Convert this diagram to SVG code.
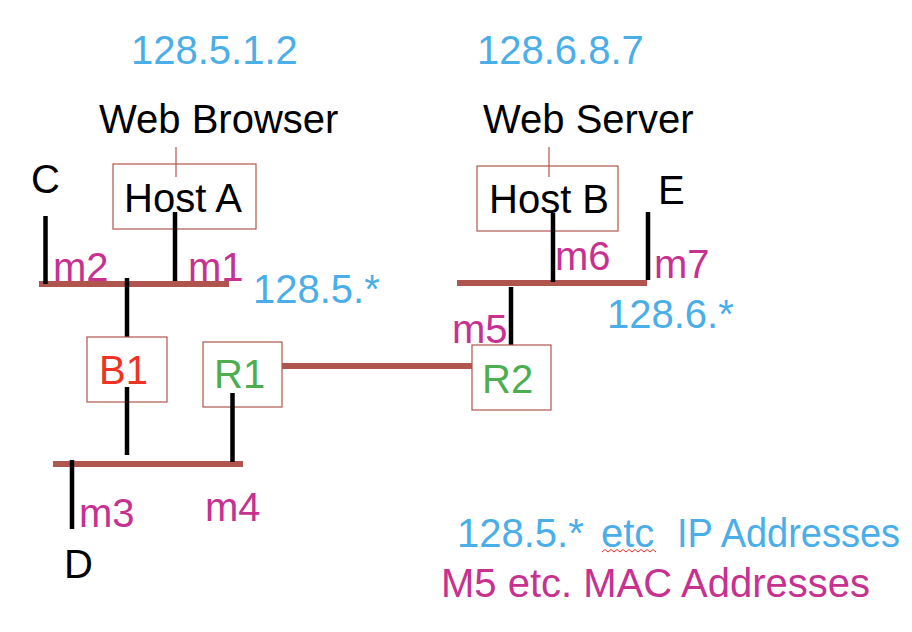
<svg xmlns="http://www.w3.org/2000/svg" width="912" height="632" viewBox="0 0 912 632">
<style>
text { font-family: "Liberation Sans", Arial, sans-serif; font-size: 40px; }
.blk { fill: #000000; }
.ip { fill: #4aaee8; }
.mac { fill: #c7318f; }
.box { fill: #ffffff; stroke: #b0554e; stroke-width: 1.2; }
.bus { stroke: #b0554e; stroke-width: 6; fill: none; }
.tap { stroke: #000000; stroke-width: 4.5; fill: none; }
.thin { stroke: #b0554e; stroke-width: 1.2; fill: none; }
</style>
<rect width="912" height="632" fill="#ffffff"/>

<g id="connectors">
  <line class="bus" x1="39" y1="284" x2="229" y2="284"/>
  <line class="bus" x1="457" y1="283" x2="647" y2="283"/>
  <line class="bus" x1="53" y1="464" x2="243" y2="464"/>
  <line class="bus" x1="282" y1="366" x2="472" y2="366"/>
  <line class="thin" x1="176" y1="147" x2="176" y2="177"/>
  <line class="thin" x1="549" y1="147" x2="549" y2="177"/>
</g>

<g id="hostA">
  <rect class="box" x="113" y="164" width="143" height="65"/>
  <line class="thin" x1="176" y1="164" x2="176" y2="177"/>
  <text class="blk" x="124" y="212">Host A</text>
  <line class="tap" x1="175" y1="212" x2="175" y2="281"/>
  <text class="ip" x="131" y="64">128.5.1.2</text>
  <text class="blk" x="99" y="133">Web Browser</text>
  <text class="mac" x="188" y="281">m1</text>
</g>

<g id="hostB">
  <rect class="box" x="477" y="166" width="141" height="65"/>
  <line class="thin" x1="549" y1="166" x2="549" y2="177"/>
  <text class="blk" x="489" y="213">Host B</text>
  <line class="tap" x1="553" y1="213" x2="553" y2="282"/>
  <text class="ip" x="477" y="64">128.6.8.7</text>
  <text class="blk" x="483" y="133">Web Server</text>
  <text class="mac" x="555" y="270">m6</text>
</g>

<g id="C">
  <text class="blk" x="31" y="193">C</text>
  <line class="tap" x1="45.5" y1="216" x2="45.5" y2="284"/>
  <text class="mac" x="53" y="281">m2</text>
</g>

<g id="E">
  <text class="blk" x="658" y="204">E</text>
  <line class="tap" x1="648" y1="212" x2="648" y2="280"/>
  <text class="mac" x="654" y="278">m7</text>
</g>

<g id="B1">
  <line class="tap" x1="127" y1="278" x2="127" y2="347"/>
  <rect class="box" x="87" y="337" width="80" height="65"/>
  <text fill="#ee3224" x="99" y="384">B1</text>
  <line class="tap" x1="127" y1="387" x2="127" y2="455"/>
</g>

<g id="R1">
  <rect class="box" x="203" y="342" width="79" height="65"/>
  <text fill="#4cae4f" x="214" y="388">R1</text>
  <line class="tap" x1="232.5" y1="393" x2="232.5" y2="462"/>
  <text class="mac" x="205" y="521">m4</text>
</g>

<g id="R2">
  <line class="tap" x1="511" y1="287" x2="511" y2="351"/>
  <rect class="box" x="472" y="345" width="79" height="65"/>
  <text fill="#4cae4f" x="482" y="393">R2</text>
  <text class="mac" x="452" y="343">m5</text>
</g>

<g id="D">
  <line class="tap" x1="72" y1="460" x2="72" y2="529"/>
  <text class="mac" x="79" y="527">m3</text>
  <text class="blk" x="64" y="578">D</text>
</g>

<g id="subnets">
  <text class="ip" x="253" y="303">128.5.*</text>
  <text class="ip" x="607" y="328">128.6.*</text>
</g>

<g id="legend">
  <text class="ip" x="457" y="547">128.5.*</text>
  <text class="ip" x="601" y="547">etc</text>
  <text class="ip" x="677" y="547" textLength="223" lengthAdjust="spacingAndGlyphs">IP Addresses</text>
  <path d="M602 552 l3 -2.5 l3 2.5 l3 -2.5 l3 2.5 l3 -2.5 l3 2.5 l3 -2.5 l3 2.5 l3 -2.5 l3 2.5 l3 -2.5 l3 2.5 l3 -2.5 l3 2.5 l3 -2.5 l3 2.5 l3 -2.5 l3 2.5" fill="none" stroke="#e8332a" stroke-width="1"/>
  <text class="mac" x="441" y="597">M5 etc. MAC Addresses</text>
</g>
</svg>
